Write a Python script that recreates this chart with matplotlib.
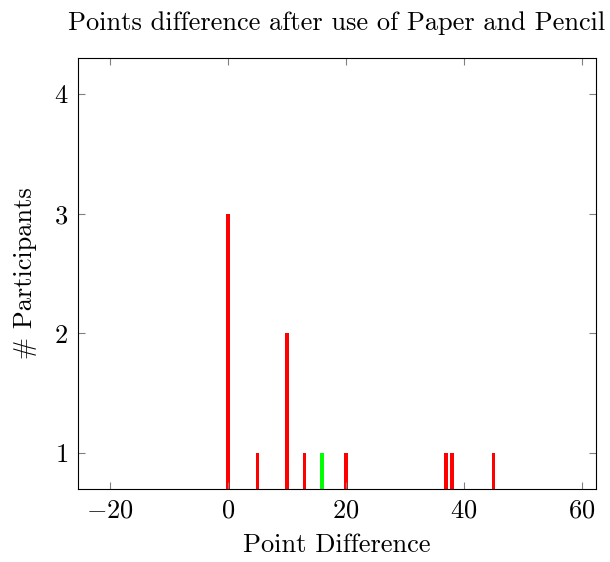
import matplotlib
matplotlib.use("Agg")
import matplotlib.pyplot as plt

plt.rcParams['font.family'] = 'serif'
plt.rcParams['font.serif'] = ['cmr10']
plt.rcParams['mathtext.fontset'] = 'cm'
plt.rcParams['axes.formatter.use_mathtext'] = True
plt.rcParams['axes.unicode_minus'] = True

red_x = [0, 5, 10, 13, 20, 37, 38, 45]
red_y = [3, 1, 2, 1, 1, 1, 1, 1]
green_x = [16]
green_y = [1]
xticks = [-20, 0, 20, 40, 60]
yticks = [1, 2, 3, 4]

fig = plt.figure(figsize=(6.10, 5.62), dpi=100)
ax = fig.add_axes([78/610, 1-489/562, (596-78)/610, (489-58)/562])

bw = 0.6
ax.bar(red_x, red_y, width=bw, color='#ff0000', linewidth=0)
ax.bar(green_x, green_y, width=bw, color='#00ff00', linewidth=0)

ax.set_xlim(-25.4, 62.4)
ax.set_ylim(0.7, 4.3)
ax.set_xticks(xticks)
ax.set_yticks(yticks)
ax.tick_params(direction='in', length=5, width=0.8, color='#808080',
               top=True, right=True, labelsize=19, pad=7)
for s in ax.spines.values():
    s.set_linewidth(0.8)
    s.set_color('black')

ax.set_xlabel('Point Difference', fontsize=19, labelpad=8)
ax.set_ylabel('# Participants', fontsize=19, labelpad=12)
ax.set_title('Points difference after use of Paper and Pencil', fontsize=19, pad=20)

fig.savefig('out.png', dpi=100)
